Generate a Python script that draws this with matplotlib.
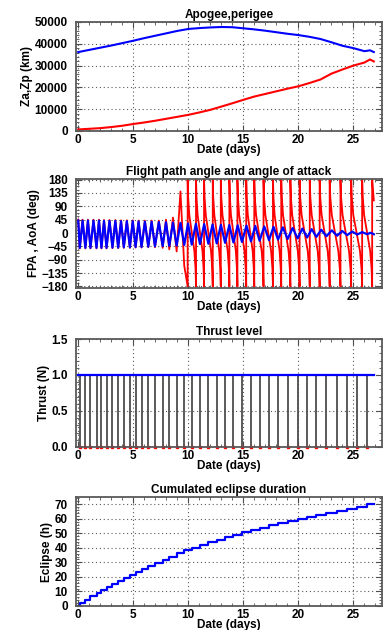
import numpy as np
import matplotlib.pyplot as plt
from matplotlib.ticker import MultipleLocator, AutoMinorLocator

plt.rcParams['font.family'] = ['Liberation Sans', 'DejaVu Sans']
plt.rcParams['font.weight'] = 'bold'
plt.rcParams['axes.titleweight'] = 'bold'
plt.rcParams['axes.labelweight'] = 'bold'
plt.rcParams['font.size'] = 8.5
title_font = dict(family=['Liberation Sans Narrow', 'Liberation Sans'], size=8.5, weight='bold')

# Apogee / perigee altitude (km) vs date (days)
apo_days = [0, 1, 2, 3, 4, 5, 6, 7, 8, 9, 10, 11, 12, 13, 14, 15, 16, 17, 18, 19,
            20, 21, 22, 23, 24, 25, 26, 26.5, 26.85]
apogee_km = [36200, 37200, 38200, 39200, 40300, 41400, 42600, 43700, 44800, 45900,
             46800, 47200, 47500, 47700, 47600, 47100, 46600, 46000, 45300, 44600,
             44000, 43200, 42200, 40700, 39100, 38000, 36600, 37000, 36200]
perigee_km = [700, 1000, 1300, 1800, 2400, 3200, 3900, 4700, 5600, 6500,
              7400, 8500, 9700, 11200, 12700, 14300, 15800, 17000, 18200, 19400,
              20500, 22000, 23600, 26300, 28200, 30000, 31400, 32800, 31900]

# thrust cut-off / orbit times (days)
orbit_days = [0.14, 0.65, 1.11, 1.66, 2.11, 2.57, 3.11, 3.63, 4.14, 4.69,
              5.21, 5.75, 6.36, 6.97, 7.67, 8.27, 8.94, 9.63, 10.31, 11.06,
              11.82, 12.58, 13.34, 14.10, 14.87, 15.69, 16.47, 17.33, 18.15, 19.02,
              19.93, 20.79, 21.63, 22.54, 23.52, 24.43, 25.34, 26.25]
end_day = 26.85

# flight path angle extremes per orbit (deg)
fpa_max = [42, 42, 42, 42, 41, 41, 41, 40, 40, 40, 39, 38, 38, 37, 36, 35, 34, 32, 31,
           30, 29, 28, 27, 26, 25, 24, 22, 21, 19, 17, 15, 13, 11, 9, 7, 5, 3, 1]
fpa_min = [-50, -50, -50, -50, -50, -50, -49, -49, -48, -48, -47, -47, -46, -45, -44,
           -43, -42, -40, -39, -37, -36, -35, -33, -32, -30, -28, -26, -24, -22, -20,
           -18, -15, -13, -11, -9, -7, -5, -4]

# angle of attack, early orbits (deg)
aoa_max = [45, 45, 45, 45, 44, 44, 44, 43, 43, 43, 42, 42, 42, 42, 45, 52, 140]
aoa_min = [-52, -52, -52, -52, -52, -52, -51, -51, -50, -50, -49, -49, -48, -48,
           -50, -55, -62, -110]
# angle of attack wraps (+/-180) later on
aoa_wrap_days = [9.94, 10.70, 11.43, 12.22, 12.95, 13.73, 14.46, 15.26, 15.99, 16.83,
                 17.69, 18.44, 19.27, 20.11, 21.03, 21.93, 22.84, 23.82, 24.79, 25.79,
                 26.70]
aoa_shape_frac = [0, 0.06, 0.2, 0.5, 0.8, 0.94, 1.0]
aoa_shape_deg = [180, 120, 60, 0, -60, -120, -180]
aoa_end_deg = 110

# cumulated eclipse duration (h) after each orbit
eclipse_h = [2.2, 4.4, 6.6, 8.7, 10.8, 12.9, 15.0, 17.0, 19.1, 21.2,
             23.3, 25.4, 27.5, 29.6, 31.8, 34.0, 36.2, 38.4, 40.2, 42.0,
             43.8, 45.6, 47.4, 49.1, 50.9, 52.4, 53.9, 55.4, 56.9, 58.5,
             60.0, 61.4, 62.8, 64.1, 65.5, 66.9, 68.4, 69.9]

# build FPA series
nxt = orbit_days[1:] + [end_day]
fx, fy = [0.0], [fpa_max[0]]
for k, t in enumerate(orbit_days):
    fx += [t, (t + nxt[k]) / 2]
    fy += [fpa_min[k], fpa_max[k]]
fx.append(end_day)
fy.append(fpa_min[-1])

# build AoA series
ax_, ay_ = [0.0], [aoa_max[0]]
for k in range(len(aoa_max)):
    ax_ += [orbit_days[k], (orbit_days[k] + nxt[k]) / 2]
    ay_ += [aoa_min[k], aoa_max[k]]
ax_.append(orbit_days[len(aoa_max)])
ay_.append(aoa_min[-1])
for i, w in enumerate(aoa_wrap_days[:-1]):
    span = aoa_wrap_days[i + 1] - w
    ax_ += [w, w] + [w + f * span for f in aoa_shape_frac[1:]]
    ay_ += [-180, 180] + aoa_shape_deg[1:]
ax_ += [aoa_wrap_days[-1], aoa_wrap_days[-1], end_day]
ay_ += [-180, 180, aoa_end_deg]

fig = plt.figure(figsize=(3.84, 6.3), dpi=100)
left, width = 0.198, 0.797
axes = [fig.add_axes([left, 0.7921, width, 0.173]),
        fig.add_axes([left, 0.5429, width, 0.173]),
        fig.add_axes([left, 0.2905, width, 0.1714]),
        fig.add_axes([left, 0.0381, width, 0.173])]

for ax in axes:
    ax.set_xlim(-0.2, 27.6)
    ax.xaxis.set_major_locator(MultipleLocator(5))
    ax.xaxis.set_minor_locator(MultipleLocator(1))
    ax.yaxis.set_minor_locator(AutoMinorLocator())
    ax.tick_params(which='both', direction='in', top=True, right=True, color='0.3')
    ax.tick_params(axis='x', pad=2)
    ax.tick_params(axis='y', pad=6)
    ax.tick_params(which='major', length=4)
    ax.tick_params(which='minor', length=2)
    for s in ax.spines.values():
        s.set_color('0.35')
        s.set_linewidth(1.3)
    ax.grid(True, which='major', linestyle=(0, (1, 2.5)), color='0.35', linewidth=0.8)
    ax.set_xlabel('Date (days)', labelpad=-1)

ax1, ax2, ax3, ax4 = axes

ax1.plot(apo_days, apogee_km, color='#0000ff', lw=1.5)
ax1.plot(apo_days, perigee_km, color='#ff0000', lw=1.5)
ax1.set_ylim(0, 50000)
ax1.yaxis.set_major_locator(MultipleLocator(10000))
ax1.set_title('Apogee,perigee', pad=3, fontdict=title_font)
ax1.set_ylabel('Za,Zp (km)', labelpad=1)

ax2.plot(ax_, ay_, color='#ff0000', lw=1.3)
ax2.plot(fx, fy, color='#0000ff', lw=1.6)
ax2.set_ylim(-185, 182)
ax2.yaxis.set_major_locator(MultipleLocator(45))
ax2.set_title('Flight path angle and angle of attack', pad=3, fontdict=title_font)
ax2.set_ylabel('FPA , AoA (deg)', labelpad=1)

ax3.vlines(orbit_days, 0, 1.0, colors='0.3', lw=1.3)
ax3.plot([0, end_day], [1.0, 1.0], color='#0000ff', lw=1.6)
ax3.plot(orbit_days, [0] * len(orbit_days), 's', color='#ff0000', ms=2, clip_on=False)
ax3.set_ylim(0, 1.5)
ax3.yaxis.set_major_locator(MultipleLocator(0.5))
ax3.yaxis.set_major_formatter(plt.FormatStrFormatter('%.1f'))
ax3.set_title('Thrust level', pad=3, fontdict=title_font)
ax3.set_ylabel('Thrust (N)', labelpad=1)

ax4.step([0.0] + orbit_days + [end_day], [0.0] + eclipse_h + [eclipse_h[-1]],
         where='post', color='#0000ff', lw=1.6)
ax4.set_ylim(0, 75)
ax4.yaxis.set_major_locator(MultipleLocator(10))
ax4.set_title('Cumulated eclipse duration', pad=3, fontdict=title_font)
ax4.set_ylabel('Eclipse (h)', labelpad=1)

fig.savefig('out.png', dpi=100)
